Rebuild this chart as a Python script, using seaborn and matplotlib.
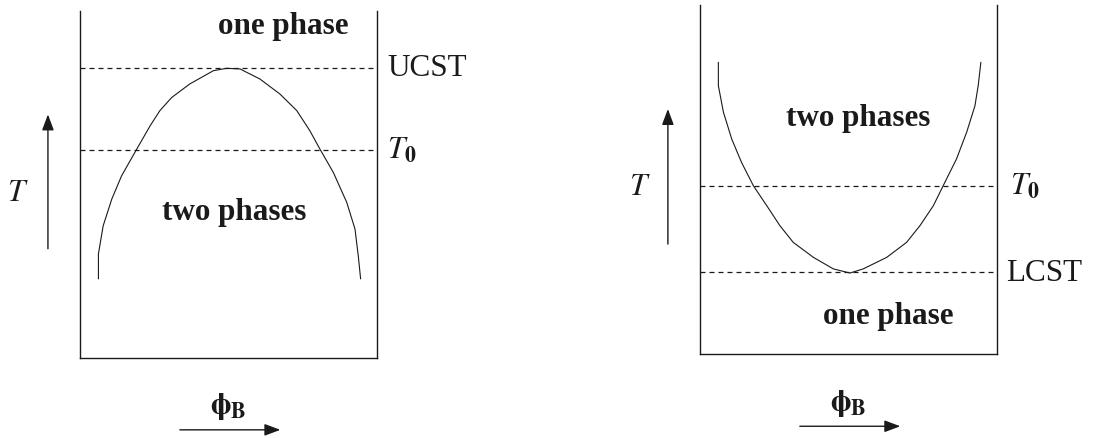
import matplotlib
matplotlib.use("Agg")
import matplotlib.pyplot as plt
import seaborn as sns
import pandas as pd

# Upper critical solution temperature: coexistence curve (composition, temperature)
ucst_phi = [0.062, 0.062, 0.078, 0.107, 0.140, 0.191, 0.236, 0.269, 0.309, 0.370,
            0.449, 0.494, 0.539, 0.606, 0.673, 0.730, 0.774, 0.808, 0.853, 0.898,
            0.926, 0.937, 0.945]
ucst_T = [0.228, 0.300, 0.381, 0.458, 0.525, 0.602, 0.669, 0.713, 0.751, 0.790,
          0.828, 0.835, 0.833, 0.804, 0.761, 0.713, 0.655, 0.602, 0.535, 0.449,
          0.372, 0.295, 0.228]
ucst_level = 0.836
ucst_T0 = 0.600

# Lower critical solution temperature: coexistence curve
lcst_phi = [0.062, 0.062, 0.079, 0.107, 0.140, 0.180, 0.225, 0.269, 0.314, 0.382,
            0.449, 0.505, 0.550, 0.629, 0.696, 0.741, 0.786, 0.819, 0.864, 0.898,
            0.926, 0.937, 0.946]
lcst_T = [0.836, 0.769, 0.693, 0.616, 0.549, 0.482, 0.425, 0.368, 0.320, 0.277,
          0.244, 0.232, 0.244, 0.277, 0.320, 0.368, 0.425, 0.482, 0.559, 0.635,
          0.711, 0.769, 0.836]
lcst_level = 0.234
lcst_T0 = 0.482

sns.set_theme(style="white")
plt.rcParams["font.family"] = ["Liberation Serif", "DejaVu Serif"]
plt.rcParams["mathtext.fontset"] = "stix"

ink = "#1a1a1a"
fs = 22.4
fig = plt.figure(figsize=(10.99, 4.39), dpi=100)
ax_u = fig.add_axes([0.0728, 0.1822, 0.2702, 0.7904])
ax_l = fig.add_axes([0.6369, 0.1913, 0.2702, 0.7950])

df_u = pd.DataFrame({"phi": ucst_phi, "T": ucst_T})
df_l = pd.DataFrame({"phi": lcst_phi, "T": lcst_T})
sns.lineplot(data=df_u, x="phi", y="T", sort=False, estimator=None, ax=ax_u,
             color=ink, lw=0.8)
sns.lineplot(data=df_l, x="phi", y="T", sort=False, estimator=None, ax=ax_l,
             color=ink, lw=0.8)

def frame(ax, levels, labels, label_x):
    ax.set_xlim(0, 1)
    ax.set_ylim(0, 1)
    ax.set_xticks([])
    ax.set_yticks([])
    ax.set_xlabel("")
    ax.set_ylabel("")
    ax.spines["top"].set_visible(False)
    for side in ("left", "right", "bottom"):
        ax.spines[side].set_color(ink)
        ax.spines[side].set_linewidth(1.0)
    tr = ax.get_yaxis_transform()
    for lev, lab, lx in zip(levels, labels, label_x):
        ax.axhline(lev, color=ink, lw=0.9, dashes=(4, 3.2))
        ax.text(lx, lev, lab, transform=tr, ha="left", va="center",
                fontsize=fs, color=ink, clip_on=False)
    # temperature axis arrow
    ax.annotate("", xy=(-0.108, 0.71), xytext=(-0.108, 0.307),
                xycoords="axes fraction", textcoords="axes fraction",
                arrowprops=dict(arrowstyle="-|>,head_length=0.8,head_width=0.3",
                                color=ink, lw=1.0))
    # composition axis arrow and label
    ax.annotate("", xy=(0.684, -0.207), xytext=(0.327, -0.207),
                xycoords="axes fraction", textcoords="axes fraction",
                arrowprops=dict(arrowstyle="-|>,head_length=0.8,head_width=0.3",
                                color=ink, lw=1.0))
    ax.text(0.50, -0.138, r"$\mathbf{\phi}_{\mathbf{B}}$", transform=ax.transAxes,
            ha="center", va="center", fontsize=fs, color=ink)

frame(ax_u, [ucst_level, ucst_T0], ["UCST", r"$T_{\mathbf{0}}$"], [1.034, 1.034])
frame(ax_l, [lcst_T0, lcst_level], [r"$T_{\mathbf{0}}$", "LCST"], [1.044, 1.030])

ax_u.text(-0.209, 0.478, r"$T$", transform=ax_u.transAxes, ha="center",
          va="center", fontsize=fs, color=ink)
ax_l.text(-0.202, 0.481, r"$T$", transform=ax_l.transAxes, ha="center",
          va="center", fontsize=fs, color=ink)

ax_u.text(0.684, 0.957, "one phase", ha="center", va="center", fontsize=fs,
          fontweight="bold", color=ink)
ax_u.text(0.519, 0.421, "two phases", ha="center", va="center", fontsize=fs,
          fontweight="bold", color=ink)
ax_l.text(0.532, 0.679, "two phases", ha="center", va="center", fontsize=fs,
          fontweight="bold", color=ink)
ax_l.text(0.633, 0.109, "one phase", ha="center", va="center", fontsize=fs,
          fontweight="bold", color=ink)

fig.savefig("out.png", dpi=100, facecolor="white")
